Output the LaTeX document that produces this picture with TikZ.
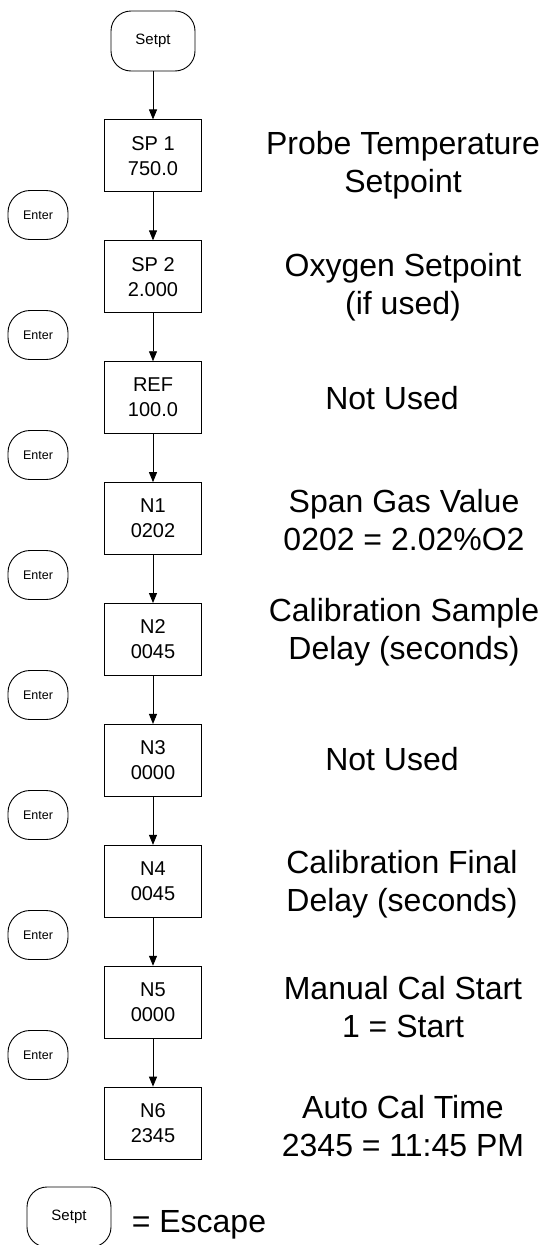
\documentclass[tikz,border=0pt]{standalone}
\usepackage{fontspec}
\setmainfont{Liberation Sans}
\usepackage{tikz}
\usetikzlibrary{shapes}
\usetikzlibrary{positioning, arrows.meta}

\tikzset{
	key/.style = {draw, rectangle, rounded corners = 20pt, minimum width = 84pt, minimum height = 60pt, font = \fontsize{15}{18}\selectfont},
	enter/.style = {draw, rectangle, rounded corners = 22pt, minimum width = 60pt, minimum height = 49pt, font = \fontsize{12.5}{15}\selectfont},
	menu/.style = {draw, rectangle, minimum width = 97pt, minimum height = 72pt, align = center, font = \fontsize{20}{25}\selectfont},
	note/.style = {align = center, font = \fontsize{32}{37.5}\selectfont},
	flow/.style = {-{Triangle[width = 8pt, length = 10pt]}}
}

\begin{document}
\begin{tikzpicture}[x = 1pt, y = 1pt, line width = 0.9pt, node distance = 48pt]
			\useasboundingbox (0,0) rectangle (548,-1245);

			\node[key] (setpt) at (153,-41) {Setpt};
			\node[menu, below = of setpt] (sp1) {SP 1\\750.0};
			\node[menu, below = of sp1] (sp2) {SP 2\\2.000};
			\node[menu, below = of sp2] (ref) {REF\\100.0};
			\node[menu, below = of ref] (n1) {N1\\0202};
			\node[menu, below = of n1] (n2) {N2\\0045};
			\node[menu, below = of n2] (n3) {N3\\0000};
			\node[menu, below = of n3] (n4) {N4\\0045};
			\node[menu, below = of n4] (n5) {N5\\0000};
			\node[menu, below = of n5] (n6) {N6\\2345};

			\node[enter] (e1) at (38,-215) {Enter};
			\node[enter] (e2) at (38,-335) {Enter};
			\node[enter] (e3) at (38,-455) {Enter};
			\node[enter] (e4) at (38,-575) {Enter};
			\node[enter] (e5) at (38,-695) {Enter};
			\node[enter] (e6) at (38,-815) {Enter};
			\node[enter] (e7) at (38,-935) {Enter};
			\node[enter] (e8) at (38,-1055) {Enter};

			\node[note] (t1) at (403,-165) {Probe Temperature\\Setpoint};
			\node[note] (t2) at (403,-287) {Oxygen Setpoint\\(if used)};
			\node[note] (t3) at (392,-398) {Not Used};
			\node[note] (t4) at (404,-520) {Span Gas Value\\0202 = 2.02\%O2};
			\node[note] (t5) at (404,-632) {Calibration Sample\\Delay (seconds)};
			\node[note] (t6) at (392,-759) {Not Used};
			\node[note] (t7) at (402,-884) {Calibration Final\\Delay (seconds)};
			\node[note] (t8) at (403,-1007) {Manual Cal Start\\1 = Start};
			\node[note] (t9) at (403,-1126) {Auto Cal Time\\2345 = 11:45 PM};

			\node[key] (esc) at (69,-1217) {Setpt};
			\node[note, anchor = base west] (esctext) at (128,-1232) {= Escape};

			\draw (setpt) edge[flow] (sp1);
			\draw (sp1) edge[flow] (sp2);
			\draw (sp2) edge[flow] (ref);
			\draw (ref) edge[flow] (n1);
			\draw (n1) edge[flow] (n2);
			\draw (n2) edge[flow] (n3);
			\draw (n3) edge[flow] (n4);
			\draw (n4) edge[flow] (n5);
			\draw (n5) edge[flow] (n6);
		\end{tikzpicture}
\end{document}
